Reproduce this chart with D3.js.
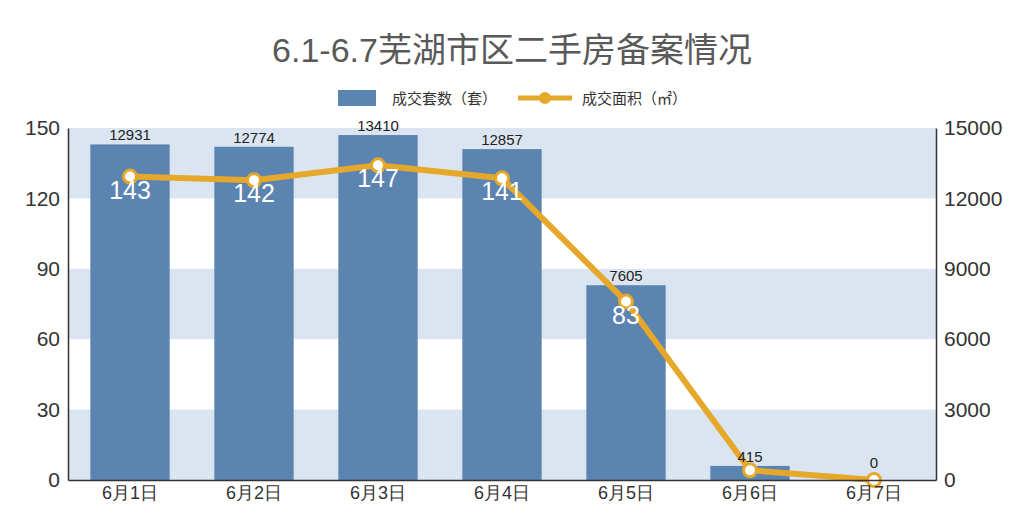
<!DOCTYPE html><html><head><meta charset="utf-8"><script src="https://cdn.jsdelivr.net/npm/d3@7"></script>
<style>body{margin:0;background:#fff}svg{font-family:"Liberation Sans","Noto Sans CJK SC",sans-serif}</style></head><body>
<svg id="c" width="1033" height="519"></svg>
<script>
const categories=["6月1日","6月2日","6月3日","6月4日","6月5日","6月6日","6月7日"];
const units=[143,142,147,141,83,6,0];
const area=[12931,12774,13410,12857,7605,415,0];
const leftTicks=[0,30,60,90,120,150];
const rightTicks=[0,3000,6000,9000,12000,15000];
const svg=d3.select("#c");
const L=68,R=936,T=128,B=480;
const x=d3.scaleBand().domain(categories).range([L,R]).paddingInner(0.36).paddingOuter(0.18);
const yL=d3.scaleLinear().domain([0,150]).range([B,T]);
const yR=d3.scaleLinear().domain([0,15000]).range([B,T]);
for(let i=0;i<5;i++){ if(i%2==0) svg.append("rect").attr("x",L).attr("width",R-L).attr("y",yL(leftTicks[i+1])).attr("height",yL(leftTicks[i])-yL(leftTicks[i+1])).attr("fill","#dbe5f1");}
svg.append("text").attr("x",512).attr("y",62).attr("text-anchor","middle").attr("font-size",34).attr("fill","#595959").attr("font-family","Liberation Sans,Noto Sans CJK SC").text("6.1-6.7芜湖市区二手房备案情况");
svg.append("rect").attr("x",338).attr("y",90).attr("width",38).attr("height",16).attr("fill","#5b84b1");
svg.append("text").attr("x",392).attr("y",104).attr("font-size",15).attr("fill","#333").text("成交套数（套）");
svg.append("line").attr("x1",518).attr("x2",572).attr("y1",98).attr("y2",98).attr("stroke","#e6a82a").attr("stroke-width",5);
svg.append("circle").attr("cx",545).attr("cy",98).attr("r",6).attr("fill","#e6a82a");
svg.append("text").attr("x",582).attr("y",104).attr("font-size",15).attr("fill","#333").text("成交面积（㎡）");
svg.selectAll(".bar").data(units).join("rect").attr("x",(d,i)=>x(categories[i])).attr("width",x.bandwidth()).attr("y",d=>yL(d)).attr("height",d=>B-yL(d)).attr("fill","#5b84b1");
const line=d3.line().x((d,i)=>x(categories[i])+x.bandwidth()/2).y(d=>yR(d));
svg.append("path").attr("d",line(area)).attr("fill","none").attr("stroke","#e6a82a").attr("stroke-width",6).attr("stroke-linejoin","round");
svg.selectAll(".pt").data(area).join("circle").attr("cx",(d,i)=>x(categories[i])+x.bandwidth()/2).attr("cy",d=>yR(d)).attr("r",6.5).attr("fill","#fff").attr("stroke","#e6a82a").attr("stroke-width",3);
svg.selectAll(".al").data(area).join("text").attr("x",(d,i)=>x(categories[i])+x.bandwidth()/2).attr("y",(d,i)=>i==6?yR(d)-12:yL(units[i])-4).attr("text-anchor","middle").attr("font-size",15).attr("fill","#222").text(d=>d);
svg.selectAll(".ul").data(units).join("text").attr("x",(d,i)=>x(categories[i])+x.bandwidth()/2).attr("y",(d,i)=>yR(area[i])+22).attr("text-anchor","middle").attr("font-size",25).attr("fill","#fff").text((d,i)=>(i<5?d:""));
const gl=svg.append("g").attr("transform",`translate(${L},0)`).call(d3.axisLeft(yL).tickValues(leftTicks).tickSize(0).tickPadding(8));
const gr=svg.append("g").attr("transform",`translate(${R},0)`).call(d3.axisRight(yR).tickValues(rightTicks).tickFormat(d3.format("d")).tickSize(0).tickPadding(8));
const gb=svg.append("g").attr("transform",`translate(0,${B})`).call(d3.axisBottom(x).tickSize(0).tickPadding(6));
[gl,gr].forEach(g=>{g.selectAll("text").attr("font-size",21).attr("fill","#333");g.select(".domain").attr("stroke","#333").attr("stroke-width",1.5);});
gb.selectAll("text").attr("font-size",18).attr("fill","#333");gb.select(".domain").attr("stroke","#333").attr("stroke-width",1.5);
</script></body></html>
